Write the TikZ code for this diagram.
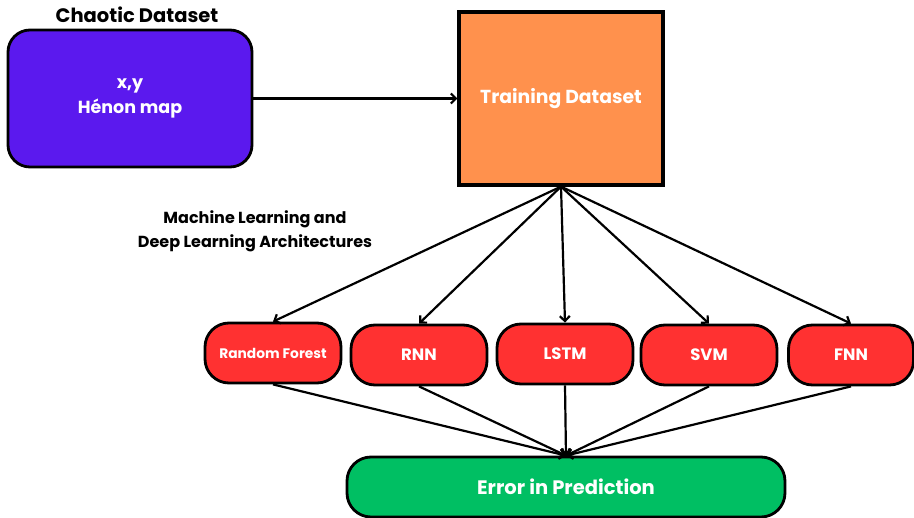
\documentclass[tikz,border=0pt]{standalone}
\usepackage{fontspec}
\setmainfont{Poppins}
\usetikzlibrary{arrows.meta}
\definecolor{purp}{HTML}{5B19EE}
\definecolor{orng}{HTML}{FF914D}
\definecolor{redb}{HTML}{FF3131}
\definecolor{grn}{HTML}{00BF63}
\tikzset{
  base/.style={draw=black, line width=2.8pt, text=white, font=\bfseries, align=center, inner sep=0pt},
  redbox/.style={base, fill=redb, rounded corners=24pt, minimum width=136pt, minimum height=60pt, font=\bfseries\fontsize{16.5}{18}\selectfont},
  conn/.style={line width=2.2pt, -{Straight Barb[length=5pt,width=10pt,line width=2.2pt]}},
  lbl/.style={font=\bfseries, align=center, text=black}
}
\begin{document}
\begin{tikzpicture}[x=1pt,y=-1pt]
\useasboundingbox (0,0) rectangle (914,518);
\node[lbl, font=\bfseries\fontsize{19.5}{20}\selectfont] (cdl) at (137,15) {Chaotic Dataset};
\node[base, fill=purp, rounded corners=22pt, minimum width=244pt, minimum height=137pt, font=\bfseries\fontsize{17.5}{25}\selectfont] (cd) at (130,98.5) {x,y\\Hénon map};
\node[base, fill=orng, line width=3.2pt, minimum width=204pt, minimum height=173pt, font=\bfseries\fontsize{18.8}{24}\selectfont] (td) at (561,98.5) {Training Dataset};
\node[lbl, font=\bfseries\fontsize{16}{24}\selectfont] (mll) at (255,231) {Machine Learning and\\Deep Learning Architectures};
\node[redbox, font=\bfseries\fontsize{13.8}{15}\selectfont] (rf) at (273,353) {Random Forest};
\node[redbox] (rnn) at (419,355) {RNN};
\node[redbox] (lstm) at (565,354) {LSTM};
\node[redbox] (svm) at (709,355) {SVM};
\node[redbox, minimum width=125pt] (fnn) at (851,355) {FNN};
\node[base, fill=grn, rounded corners=24pt, minimum width=438pt, minimum height=60pt, font=\bfseries\fontsize{19.5}{22}\selectfont] (err) at (566,487) {Error in Prediction};
\draw[conn] (cd.east) -- (td.west);
\foreach \n in {rf,rnn,lstm,svm,fnn}{
  \draw[conn] (td.south) -- (\n.north);
  \draw[conn] (\n.south) -- (err.north);
}
\end{tikzpicture}
\end{document}
